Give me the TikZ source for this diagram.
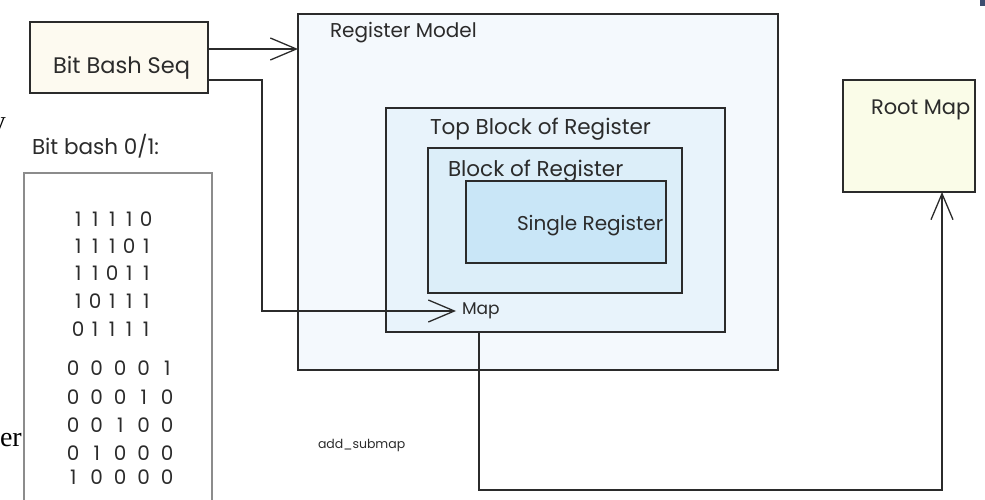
\documentclass[tikz,border=0pt]{standalone}
\usepackage{fontspec}
\setmainfont{Poppins}
\newfontfamily\cutserif{Liberation Serif}
\usetikzlibrary{arrows.meta}

\definecolor{ink}{HTML}{2B2B2B}
\definecolor{listedge}{HTML}{8C8C8C}
\definecolor{rmfill}{HTML}{F4F9FD}
\definecolor{tbfill}{HTML}{E8F3FB}
\definecolor{brfill}{HTML}{DCEEF9}
\definecolor{srfill}{HTML}{C9E6F7}
\definecolor{seqfill}{HTML}{FDFAF0}
\definecolor{rootfill}{HTML}{FAFCE8}
\definecolor{cornerblue}{HTML}{3E4C6E}

% one row of five bits, each in a cell of width #1
\newcommand\bitcells[6]{\makebox[#1][c]{#2}\makebox[#1][c]{#3}\makebox[#1][c]{#4}\makebox[#1][c]{#5}\makebox[#1][c]{#6}}

\begin{document}
\begin{tikzpicture}[x=1pt,y=-1pt,
  box/.style={draw=ink, line width=1.4pt, anchor=north west, inner sep=0pt, outer sep=0pt},
  lbl/.style={anchor=west, inner sep=0pt, outer sep=0pt, text=ink, font=\fontsize{#1}{#1}\selectfont},
  lbl/.default=21.5,
  bits/.style={anchor=west, inner sep=0pt, text=ink, font=\fontsize{20}{20}\selectfont},
  wire/.style={draw=ink, line width=1.3pt},
  barb/.style={-{Straight Barb[length=26pt,width=22pt,line width=1.3pt]}},
]
\useasboundingbox (0,0) rectangle (985,500);
\clip (0,0) rectangle (985,500);

% edge fragments
\node[anchor=base east, inner sep=0pt, font=\cutserif\fontsize{28}{28}\selectfont] (fragy) at (6,131) {y};
\node[anchor=base east, inner sep=0pt, font=\cutserif\fontsize{28}{28}\selectfont] (fragr) at (22,446) {er};
\fill[cornerblue] (980,0) rectangle (985,6);

% sequence box
\node[box, fill=seqfill, minimum width=178pt, minimum height=71pt] (seq) at (30,22) {};
\node[lbl=22.5] (seqtext) at (53,68) {Bit Bash Seq};

% list of bit patterns
\node[lbl] (listtitle) at (32,146) {Bit bash 0/1:};
\coordinate (lsw) at (24,505);
\coordinate (lse) at (212,505);
\filldraw[fill=white, draw=listedge, line width=1.2pt] (lsw) -- (24,173) -- (212,173) -- (lse);
\node[bits] (r1) at (69.5,219) {\bitcells{17pt}11110};
\node[bits] (r2) at (69.5,246) {\bitcells{17pt}11101};
\node[bits] (r3) at (69.5,273) {\bitcells{17pt}11011};
\node[bits] (r4) at (69.5,301) {\bitcells{17pt}10111};
\node[bits] (r5) at (69.5,329) {\bitcells{17pt}01111};
\node[bits] (r6) at (61.3,368) {\bitcells{23.5pt}00001};
\node[bits] (r7) at (61.3,397) {\bitcells{23.5pt}00010};
\node[bits] (r8) at (61.3,425) {\bitcells{23.5pt}00100};
\node[bits] (r9) at (61.3,453) {\bitcells{23.5pt}01000};
\node[bits] (r10) at (61.3,477) {\bitcells{23.5pt}10000};

% register model and its nested blocks
\node[box, fill=rmfill, minimum width=480pt, minimum height=356pt] (rm) at (298,14) {};
\node[lbl=20] (rmtext) at (330,33) {Register Model};
\node[box, fill=tbfill, minimum width=339pt, minimum height=224pt] (tb) at (386,108) {};
\node[lbl] (tbtext) at (430,129) {Top Block of Register};
\node[box, fill=brfill, minimum width=254pt, minimum height=145pt] (br) at (428,148) {};
\node[lbl] (brtext) at (448,171) {Block of Register};
\node[box, fill=srfill, minimum width=200pt, minimum height=82pt] (sr) at (466,181) {};
\node[lbl=20] (srtext) at (517,226) {Single Register};
\node[lbl=17, outer xsep=6pt] (map) at (456,311) {Map};

% root map
\node[box, fill=rootfill, minimum width=132pt, minimum height=112pt] (root) at (843,80) {};
\node[lbl=21] (roottext) at (871,110) {Root Map};

\node[lbl=12.5] (submap) at (318,445) {add\_submap};

% connectors
\draw[wire, barb] (seq.east |- 0,49) -- (rm.west |- 0,49);
\draw[wire, barb] (seq.east |- 0,80) -- (262,80) -- (262,311) -- (map.west);
\draw[wire, barb] (tb.south -| 479,0) -- (479,490) -- (942,490) -- (root.south -| 942,0);
\end{tikzpicture}
\end{document}
